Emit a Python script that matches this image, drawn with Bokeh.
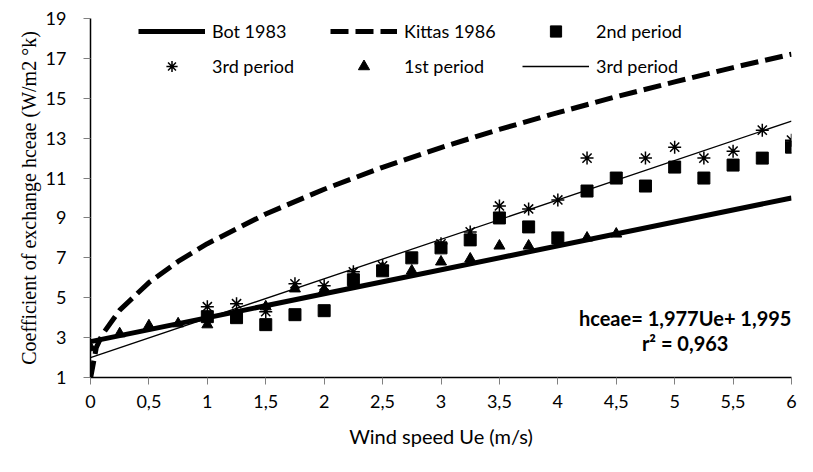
from bokeh.plotting import figure
from bokeh.models import Range1d, FixedTicker, Legend, LegendItem, Label, CustomJSTickFormatter
from bokeh.embed import file_html
from bokeh.resources import INLINE

# ---- data ----
x_ticks = [0, 0.5, 1, 1.5, 2, 2.5, 3, 3.5, 4, 4.5, 5, 5.5, 6]
y_ticks = [1, 3, 5, 7, 9, 11, 13, 15, 17, 19]

bot_x = [0, 6]
bot_y = [2.8, 10.0]

kittas_x = [0.0, 0.05, 0.1, 0.25, 0.5, 0.75, 1.0, 1.5, 2.0, 2.5, 3.0, 3.5, 4.0, 4.5, 5.0, 5.5, 6.0]
kittas_y = [0.95, 2.51, 3.14, 4.38, 5.76, 6.82, 7.71, 9.20, 10.44, 11.54, 12.53, 13.44, 14.28, 15.08, 15.82, 16.54, 17.21]

fit_x = [0, 6]
fit_y = [1.995, 13.857]

p1_x = [0, 0.25, 0.5, 0.75, 1, 1.25, 1.5, 1.75, 2, 2.25, 2.5, 2.75, 3, 3.25, 3.5, 3.75, 4.25, 4.5]
p1_y = [2.5, 3.2, 3.6, 3.7, 3.65, 4.2, 4.55, 5.45, 5.4, 5.7, 6.5, 6.35, 6.8, 6.95, 7.6, 7.6, 8.0, 8.2]

p2_x = [1, 1.25, 1.5, 1.75, 2, 2.25, 2.5, 2.75, 3, 3.25, 3.5, 3.75, 4, 4.25, 4.5, 4.75, 5, 5.25, 5.5, 5.75, 6]
p2_y = [4.05, 4.0, 3.65, 4.15, 4.35, 5.9, 6.35, 7.0, 7.5, 7.9, 9.0, 8.55, 8.0, 10.35, 11.0, 10.6, 11.55, 11.0, 11.65, 12.0, 12.55]

p3_x = [1, 1.25, 1.5, 1.75, 2, 2.25, 2.5, 3, 3.25, 3.5, 3.75, 4, 4.25, 4.75, 5, 5.25, 5.5, 5.75, 6]
p3_y = [4.55, 4.7, 4.3, 5.7, 5.6, 6.3, 6.6, 7.7, 8.3, 9.6, 9.45, 9.9, 12.0, 12.0, 12.55, 12.0, 12.35, 13.4, 12.9]

SANS = "Lato"
SERIF = "Liberation Serif"

p = figure(width=797, height=456, x_range=Range1d(0, 6), y_range=Range1d(1, 19),
           output_backend="svg", toolbar_location=None,
           min_border_left=90, min_border_right=6, min_border_top=18, min_border_bottom=79)
p.xgrid.visible = False
p.ygrid.visible = False
p.outline_line_color = None
p.background_fill_color = "white"
p.border_fill_color = "white"

p.xaxis.ticker = FixedTicker(ticks=x_ticks)
p.yaxis.ticker = FixedTicker(ticks=y_ticks)
p.xaxis.formatter = CustomJSTickFormatter(code="return tick.toString().replace('.', ',');")
for ax in (p.xaxis[0], p.yaxis[0]):
    ax.major_tick_in = 0
    ax.major_tick_out = 7
    ax.minor_tick_in = 0
    ax.minor_tick_out = 0
    ax.axis_line_color = "black"
    ax.axis_line_width = 1.5
    ax.major_tick_line_color = "#808080"
    ax.major_label_text_font = SANS
    ax.major_label_text_font_size = "18px"
    ax.major_label_text_color = "black"
p.xaxis.major_label_standoff = 10
p.yaxis.major_label_standoff = 17

p.xaxis.axis_label = "Wind speed Ue (m/s)"
p.xaxis.axis_label_text_font = SANS
p.xaxis.axis_label_text_font_size = "20px"
p.xaxis.axis_label_text_font_style = "normal"
p.xaxis.axis_label_text_color = "black"
p.xaxis.axis_label_standoff = 13

p.yaxis.axis_label = "Coefficient of exchange hceae (W/m2 °k)"
p.yaxis.axis_label_text_font = SERIF
p.yaxis.axis_label_text_font_size = "20px"
p.yaxis.axis_label_text_font_style = "normal"
p.yaxis.axis_label_text_color = "black"
p.yaxis.axis_label_standoff = 3

r_bot = p.line(bot_x, bot_y, line_color="black", line_width=5)
r_kit = p.line(kittas_x, kittas_y, line_color="black", line_width=5, line_dash="18 7")
r_fit = p.line(fit_x, fit_y, line_color="black", line_width=1.3)
r_p1 = p.scatter(p1_x, p1_y, marker="triangle", size=11, fill_color="black", line_color="black")
r_p2 = p.scatter(p2_x, p2_y, marker="square", size=12, fill_color="black", line_color="black")
r_p3 = p.scatter(p3_x, p3_y, marker="asterisk", size=13, line_color="black", line_width=1.5)

legend = Legend(items=[
    LegendItem(label="Bot 1983", renderers=[r_bot]),
    LegendItem(label="Kittas 1986", renderers=[r_kit]),
    LegendItem(label="2nd period", renderers=[r_p2]),
    LegendItem(label="3rd period", renderers=[r_p3]),
    LegendItem(label="1st period", renderers=[r_p1]),
    LegendItem(label="3rd period", renderers=[r_fit]),
], location=(48, 297), orientation="horizontal", ncols=3,
    glyph_width=67, glyph_height=28, label_height=28, label_width=111,
    label_standoff=7, spacing=7, padding=0, margin=0,
    border_line_color=None, background_fill_alpha=0,
    label_text_font=SANS, label_text_font_size="18px", label_text_color="black")
p.add_layout(legend)

# Equation annotation
p.add_layout(Label(x=5.09, y=3.98, text="hceae= 1,977Ue+ 1,995", text_font=SANS,
                   text_font_size="20px", text_font_style="bold", text_align="center",
                   text_baseline="alphabetic", text_color="black"))
p.add_layout(Label(x=5.09, y=2.74, text="r² = 0,963", text_font=SANS,
                   text_font_size="20px", text_font_style="bold", text_align="center",
                   text_baseline="alphabetic", text_color="black"))

open("out.html", "w").write(file_html(p, INLINE))
